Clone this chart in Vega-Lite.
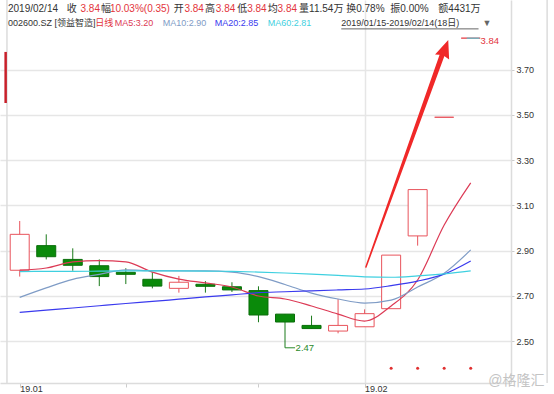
{
  "$schema": "https://vega.github.io/schema/vega-lite/v6.json",
  "width": 511,
  "height": 383,
  "padding": {"left": 0, "top": 0, "right": 43, "bottom": 11},
  "autosize": {"type": "none"},
  "background": "white",
  "config": {"view": {"stroke": null}, "font": "Liberation Sans, Noto Sans CJK SC, sans-serif", "text": {"font": "Liberation Sans, Noto Sans CJK SC, sans-serif"}},
  "datasets": {
    "candles": [
      {"i": 1, "d": "2019-01-15", "o": 2.813, "h": 3.031, "l": 2.785, "c": 2.972},
      {"i": 2, "d": "2019-01-16", "o": 2.922, "h": 2.972, "l": 2.861, "c": 2.873},
      {"i": 3, "d": "2019-01-17", "o": 2.861, "h": 2.910, "l": 2.811, "c": 2.835},
      {"i": 4, "d": "2019-01-18", "o": 2.833, "h": 2.861, "l": 2.743, "c": 2.785},
      {"i": 5, "d": "2019-01-21", "o": 2.804, "h": 2.822, "l": 2.752, "c": 2.795},
      {"i": 6, "d": "2019-01-22", "o": 2.773, "h": 2.804, "l": 2.733, "c": 2.743},
      {"i": 7, "d": "2019-01-23", "o": 2.733, "h": 2.788, "l": 2.714, "c": 2.760},
      {"i": 8, "d": "2019-01-24", "o": 2.751, "h": 2.765, "l": 2.714, "c": 2.742},
      {"i": 9, "d": "2019-01-25", "o": 2.740, "h": 2.760, "l": 2.717, "c": 2.726},
      {"i": 10, "d": "2019-01-28", "o": 2.723, "h": 2.742, "l": 2.583, "c": 2.615},
      {"i": 11, "d": "2019-01-29", "o": 2.619, "h": 2.619, "l": 2.47, "c": 2.584},
      {"i": 12, "d": "2019-01-30", "o": 2.569, "h": 2.612, "l": 2.555, "c": 2.555},
      {"i": 13, "d": "2019-01-31", "o": 2.544, "h": 2.686, "l": 2.534, "c": 2.569},
      {"i": 14, "d": "2019-02-01", "o": 2.563, "h": 2.640, "l": 2.563, "c": 2.621},
      {"i": 15, "d": "2019-02-11", "o": 2.643, "h": 2.88, "l": 2.643, "c": 2.88},
      {"i": 16, "d": "2019-02-12", "o": 2.965, "h": 3.17, "l": 2.922, "c": 3.17},
      {"i": 17, "d": "2019-02-13", "o": 3.49, "h": 3.49, "l": 3.49, "c": 3.49},
      {"i": 18, "d": "2019-02-14", "o": 3.84, "h": 3.84, "l": 3.84, "c": 3.84}
    ],
    "ma": [
      {"i": 1, "s": "MA5", "v": 2.814}, {"i": 2, "s": "MA5", "v": 2.823}, {"i": 3, "s": "MA5", "v": 2.850}, {"i": 4, "s": "MA5", "v": 2.856}, {"i": 5, "s": "MA5", "v": 2.850}, {"i": 6, "s": "MA5", "v": 2.805}, {"i": 7, "s": "MA5", "v": 2.774}, {"i": 8, "s": "MA5", "v": 2.757}, {"i": 9, "s": "MA5", "v": 2.739}, {"i": 10, "s": "MA5", "v": 2.699}, {"i": 11, "s": "MA5", "v": 2.686}, {"i": 12, "s": "MA5", "v": 2.655}, {"i": 13, "s": "MA5", "v": 2.619}, {"i": 14, "s": "MA5", "v": 2.588}, {"i": 15, "s": "MA5", "v": 2.655}, {"i": 16, "s": "MA5", "v": 2.770}, {"i": 17, "s": "MA5", "v": 3.013}, {"i": 18, "s": "MA5", "v": 3.20},
      {"i": 1, "s": "MA10", "v": 2.693}, {"i": 2, "s": "MA10", "v": 2.735}, {"i": 3, "s": "MA10", "v": 2.773}, {"i": 4, "s": "MA10", "v": 2.795}, {"i": 5, "s": "MA10", "v": 2.815}, {"i": 6, "s": "MA10", "v": 2.811}, {"i": 7, "s": "MA10", "v": 2.810}, {"i": 8, "s": "MA10", "v": 2.810}, {"i": 9, "s": "MA10", "v": 2.805}, {"i": 10, "s": "MA10", "v": 2.785}, {"i": 11, "s": "MA10", "v": 2.750}, {"i": 12, "s": "MA10", "v": 2.712}, {"i": 13, "s": "MA10", "v": 2.686}, {"i": 14, "s": "MA10", "v": 2.668}, {"i": 15, "s": "MA10", "v": 2.681}, {"i": 16, "s": "MA10", "v": 2.739}, {"i": 17, "s": "MA10", "v": 2.80}, {"i": 18, "s": "MA10", "v": 2.903},
      {"i": 1, "s": "MA20", "v": 2.627}, {"i": 2, "s": "MA20", "v": 2.637}, {"i": 3, "s": "MA20", "v": 2.646}, {"i": 4, "s": "MA20", "v": 2.656}, {"i": 5, "s": "MA20", "v": 2.666}, {"i": 6, "s": "MA20", "v": 2.675}, {"i": 7, "s": "MA20", "v": 2.685}, {"i": 8, "s": "MA20", "v": 2.695}, {"i": 9, "s": "MA20", "v": 2.704}, {"i": 10, "s": "MA20", "v": 2.714}, {"i": 11, "s": "MA20", "v": 2.718}, {"i": 12, "s": "MA20", "v": 2.722}, {"i": 13, "s": "MA20", "v": 2.726}, {"i": 14, "s": "MA20", "v": 2.730}, {"i": 15, "s": "MA20", "v": 2.745}, {"i": 16, "s": "MA20", "v": 2.765}, {"i": 17, "s": "MA20", "v": 2.796}, {"i": 18, "s": "MA20", "v": 2.854},
      {"i": 1, "s": "MA60", "v": 2.807}, {"i": 2, "s": "MA60", "v": 2.808}, {"i": 3, "s": "MA60", "v": 2.808}, {"i": 4, "s": "MA60", "v": 2.809}, {"i": 5, "s": "MA60", "v": 2.810}, {"i": 6, "s": "MA60", "v": 2.810}, {"i": 7, "s": "MA60", "v": 2.810}, {"i": 8, "s": "MA60", "v": 2.809}, {"i": 9, "s": "MA60", "v": 2.808}, {"i": 10, "s": "MA60", "v": 2.805}, {"i": 11, "s": "MA60", "v": 2.801}, {"i": 12, "s": "MA60", "v": 2.796}, {"i": 13, "s": "MA60", "v": 2.790}, {"i": 14, "s": "MA60", "v": 2.784}, {"i": 15, "s": "MA60", "v": 2.782}, {"i": 16, "s": "MA60", "v": 2.788}, {"i": 17, "s": "MA60", "v": 2.797}, {"i": 18, "s": "MA60", "v": 2.810}
    ],
    "arrow": [
      {"i": 14.05, "v": 2.827, "t": 0},
      {"i": 16.965, "v": 3.779, "t": 1}
    ],
    "head": [{"i": 17.024, "v": 3.790}],
    "limit": [
      {"i": 15, "v": 2.379}, {"i": 16, "v": 2.379}, {"i": 17, "v": 2.379}, {"i": 18, "v": 2.379}
    ],
    "frames": [{"i": 0.52}, {"i": 20.88}],
    "flag": [{"i": 0.47, "v": 3.553, "v2": 3.779}],
    "leads": [
      {"i": 11.0, "i2": 11.38, "v": 2.47, "role": "dn"},
      {"i": 17.85, "i2": 18.33, "v": 3.84, "role": "MA60"},
      {"i": 13.121, "i2": 18.295, "v": 3.881, "role": "mut"}
    ],
    "tags": [
      {"i": 11.40, "v": 2.47, "t": "2.47", "role": "dn"},
      {"i": 18.37, "v": 3.827, "t": "3.84", "role": "val"}
    ],
    "hdr1": [
      {"i": 0.557, "v": 3.969, "t": "2019/02/14", "role": "lbl"},
      {"i": 2.774, "v": 3.969, "t": "收", "role": "lbl"},
      {"i": 3.291, "v": 3.969, "t": "3.84", "role": "val"},
      {"i": 4.067, "v": 3.969, "t": "幅", "role": "lbl"},
      {"i": 4.400, "v": 3.969, "t": "10.03%(0.35)", "role": "val"},
      {"i": 6.802, "v": 3.969, "t": "开", "role": "lbl"},
      {"i": 7.208, "v": 3.969, "t": "3.84", "role": "val"},
      {"i": 7.984, "v": 3.969, "t": "高", "role": "lbl"},
      {"i": 8.391, "v": 3.969, "t": "3.84", "role": "val"},
      {"i": 9.204, "v": 3.969, "t": "低", "role": "lbl"},
      {"i": 9.573, "v": 3.969, "t": "3.84", "role": "val"},
      {"i": 10.350, "v": 3.969, "t": "均", "role": "lbl"},
      {"i": 10.719, "v": 3.969, "t": "3.84", "role": "val"},
      {"i": 11.532, "v": 3.969, "t": "量11.54万", "role": "lbl"},
      {"i": 13.306, "v": 3.969, "t": "换0.78%", "role": "lbl"},
      {"i": 14.969, "v": 3.969, "t": "振0.00%", "role": "lbl"},
      {"i": 16.780, "v": 3.969, "t": "额4431万", "role": "lbl"}
    ],
    "hdr2": [
      {"i": 0.557, "v": 3.907, "t": "002600.SZ [领益智造]", "role": "lbl"},
      {"i": 3.846, "v": 3.907, "t": "日线", "role": "val"},
      {"i": 4.585, "v": 3.907, "t": "MA5:3.20", "role": "MA5"},
      {"i": 6.395, "v": 3.907, "t": "MA10:2.90", "role": "MA10"},
      {"i": 8.354, "v": 3.907, "t": "MA20:2.85", "role": "MA20"},
      {"i": 10.350, "v": 3.907, "t": "MA60:2.81", "role": "MA60"},
      {"i": 13.121, "v": 3.907, "t": "2019/01/15-2019/02/14(18日)", "role": "lbl"},
      {"i": 18.443, "v": 3.907, "t": "▼", "role": "mut"}
    ],
    "wm": [{"i": 18.66, "v": 2.323, "t": "@格隆汇", "role": "wm"}]
  },
  "layer": [
    {
      "data": {"name": "candles"},
      "mark": {"type": "rule", "strokeWidth": 1},
      "encoding": {
        "x": {"field": "i", "type": "quantitative", "title": null,
          "scale": {"domain": [0.4457, 19.33], "nice": false, "zero": false},
          "axis": {"orient": "bottom", "values": [1, 5, 10, 14],
            "labelExpr": "datum.value == 1 ? '19.01' : datum.value == 14 ? '19.02' : ''",
            "labelAlign": "left", "labelDx": 1, "labelPadding": -2.5, "labelFontSize": 9, "labelColor": "#333333", "labelFont": "Liberation Sans, Noto Sans CJK SC, sans-serif",
            "tickColor": "#cccccc", "tickSize": 4, "domainColor": "#dcdcdc", "domainWidth": 1.5,
            "grid": true, "gridColor": "#e6e6e6", "gridWidth": 1.5,
            "gridOpacity": {"condition": {"test": "datum.value == 14", "value": 1}, "value": 0}}},
        "y": {"field": "l", "type": "quantitative", "title": null,
          "scale": {"domain": [2.3142, 4.0088], "nice": false, "zero": false},
          "axis": {"orient": "right", "values": [2.5, 2.7, 2.9, 3.1, 3.3, 3.5, 3.7], "format": ".2f",
            "labelFontSize": 9, "labelColor": "#333333", "labelFont": "Liberation Sans, Noto Sans CJK SC, sans-serif", "labelPadding": 2,
            "tickSize": 3, "tickColor": "#cccccc", "domainColor": "#dcdcdc", "domainWidth": 1.5,
            "grid": true, "gridColor": "#e6e6e6", "gridWidth": 1.5}},
        "y2": {"field": "h"},
        "color": {"condition": {"test": "datum.c >= datum.o", "value": "#e8545c"}, "value": "#1a7a1a"}
      }
    },
    {
      "data": {"name": "frames"},
      "mark": {"type": "rule", "strokeWidth": 1.5, "color": "#dcdcdc"},
      "encoding": {
        "x": {"field": "i", "type": "quantitative", "title": null, "scale": {"domain": [0.4457, 19.33], "nice": false, "zero": false}}
      }
    },
    {
      "data": {"name": "flag"},
      "mark": {"type": "rule", "strokeWidth": 2.5, "color": "#c8202a"},
      "encoding": {
        "x": {"field": "i", "type": "quantitative", "title": null, "scale": {"domain": [0.4457, 19.33], "nice": false, "zero": false}},
        "y": {"field": "v", "type": "quantitative", "title": null, "scale": {"domain": [2.3142, 4.0088], "nice": false, "zero": false}},
        "y2": {"field": "v2"}
      }
    },
    {
      "data": {"name": "candles"},
      "mark": {"type": "bar", "width": 19, "strokeWidth": 1},
      "encoding": {
        "x": {"field": "i", "type": "quantitative", "title": null, "scale": {"domain": [0.4457, 19.33], "nice": false, "zero": false}},
        "y": {"field": "o", "type": "quantitative", "title": null, "scale": {"domain": [2.3142, 4.0088], "nice": false, "zero": false}},
        "y2": {"field": "c"},
        "fill": {"condition": {"test": "datum.c >= datum.o", "value": "#ffffff"}, "value": "#0a8a0a"},
        "stroke": {"condition": {"test": "datum.c >= datum.o", "value": "#e8545c"}, "value": "#0a6e0a"}
      }
    },
    {
      "data": {"name": "ma"},
      "mark": {"type": "line", "strokeWidth": 1.2, "interpolate": "monotone"},
      "encoding": {
        "x": {"field": "i", "type": "quantitative", "title": null, "scale": {"domain": [0.4457, 19.33], "nice": false, "zero": false}},
        "y": {"field": "v", "type": "quantitative", "title": null, "scale": {"domain": [2.3142, 4.0088], "nice": false, "zero": false}},
        "color": {"field": "s", "type": "nominal", "legend": null,
          "scale": {"domain": ["lbl", "val", "MA5", "MA10", "MA20", "MA60", "dn", "wm", "mut"],
            "range": ["#333333", "#e3343c", "#dc3a55", "#7f9cc6", "#3a3aee", "#3fd0e0", "#2a8a2a", "#c4c4c4", "#666666"]}}
      }
    },
    {
      "data": {"name": "arrow"},
      "mark": {"type": "trail", "color": "#f02828"},
      "encoding": {
        "x": {"field": "i", "type": "quantitative", "title": null, "scale": {"domain": [0.4457, 19.33], "nice": false, "zero": false}},
        "y": {"field": "v", "type": "quantitative", "title": null, "scale": {"domain": [2.3142, 4.0088], "nice": false, "zero": false}},
        "size": {"field": "t", "type": "quantitative", "legend": null, "scale": {"domain": [0, 1], "range": [1.5, 5]}}
      }
    },
    {
      "data": {"name": "head"},
      "mark": {"type": "point", "shape": "M0,-1L0.75,0.8L0,0.6L-0.75,0.8Z", "angle": 20, "size": 400, "filled": true, "opacity": 1, "color": "#f02828"},
      "encoding": {
        "x": {"field": "i", "type": "quantitative", "title": null, "scale": {"domain": [0.4457, 19.33], "nice": false, "zero": false}},
        "y": {"field": "v", "type": "quantitative", "title": null, "scale": {"domain": [2.3142, 4.0088], "nice": false, "zero": false}}
      }
    },
    {
      "data": {"name": "limit"},
      "mark": {"type": "point", "shape": "circle", "size": 9, "filled": true, "opacity": 1, "color": "#e03030"},
      "encoding": {
        "x": {"field": "i", "type": "quantitative", "title": null, "scale": {"domain": [0.4457, 19.33], "nice": false, "zero": false}},
        "y": {"field": "v", "type": "quantitative", "title": null, "scale": {"domain": [2.3142, 4.0088], "nice": false, "zero": false}}
      }
    },
    {
      "data": {"name": "leads"},
      "mark": {"type": "rule", "strokeWidth": 1},
      "encoding": {
        "x": {"field": "i", "type": "quantitative", "title": null, "scale": {"domain": [0.4457, 19.33], "nice": false, "zero": false}},
        "x2": {"field": "i2"},
        "y": {"field": "v", "type": "quantitative", "title": null, "scale": {"domain": [2.3142, 4.0088], "nice": false, "zero": false}},
        "color": {"field": "role", "type": "nominal", "legend": null}
      }
    },
    {
      "data": {"name": "tags"},
      "mark": {"type": "text", "align": "left", "baseline": "middle", "fontSize": 9.5},
      "encoding": {
        "x": {"field": "i", "type": "quantitative", "title": null, "scale": {"domain": [0.4457, 19.33], "nice": false, "zero": false}},
        "y": {"field": "v", "type": "quantitative", "title": null, "scale": {"domain": [2.3142, 4.0088], "nice": false, "zero": false}},
        "text": {"field": "t"},
        "color": {"field": "role", "type": "nominal", "legend": null}
      }
    },
    {
      "data": {"name": "hdr1"},
      "mark": {"type": "text", "align": "left", "baseline": "middle", "fontSize": 10},
      "encoding": {
        "x": {"field": "i", "type": "quantitative", "title": null, "scale": {"domain": [0.4457, 19.33], "nice": false, "zero": false}},
        "y": {"field": "v", "type": "quantitative", "title": null, "scale": {"domain": [2.3142, 4.0088], "nice": false, "zero": false}},
        "text": {"field": "t"},
        "color": {"field": "role", "type": "nominal", "legend": null}
      }
    },
    {
      "data": {"name": "hdr2"},
      "mark": {"type": "text", "align": "left", "baseline": "middle", "fontSize": 9},
      "encoding": {
        "x": {"field": "i", "type": "quantitative", "title": null, "scale": {"domain": [0.4457, 19.33], "nice": false, "zero": false}},
        "y": {"field": "v", "type": "quantitative", "title": null, "scale": {"domain": [2.3142, 4.0088], "nice": false, "zero": false}},
        "text": {"field": "t"},
        "color": {"field": "role", "type": "nominal", "legend": null}
      }
    },
    {
      "data": {"name": "wm"},
      "mark": {"type": "text", "align": "left", "baseline": "middle", "fontSize": 14},
      "encoding": {
        "x": {"field": "i", "type": "quantitative", "title": null, "scale": {"domain": [0.4457, 19.33], "nice": false, "zero": false}},
        "y": {"field": "v", "type": "quantitative", "title": null, "scale": {"domain": [2.3142, 4.0088], "nice": false, "zero": false}},
        "text": {"field": "t"},
        "color": {"field": "role", "type": "nominal", "legend": null}
      }
    }
  ]
}
